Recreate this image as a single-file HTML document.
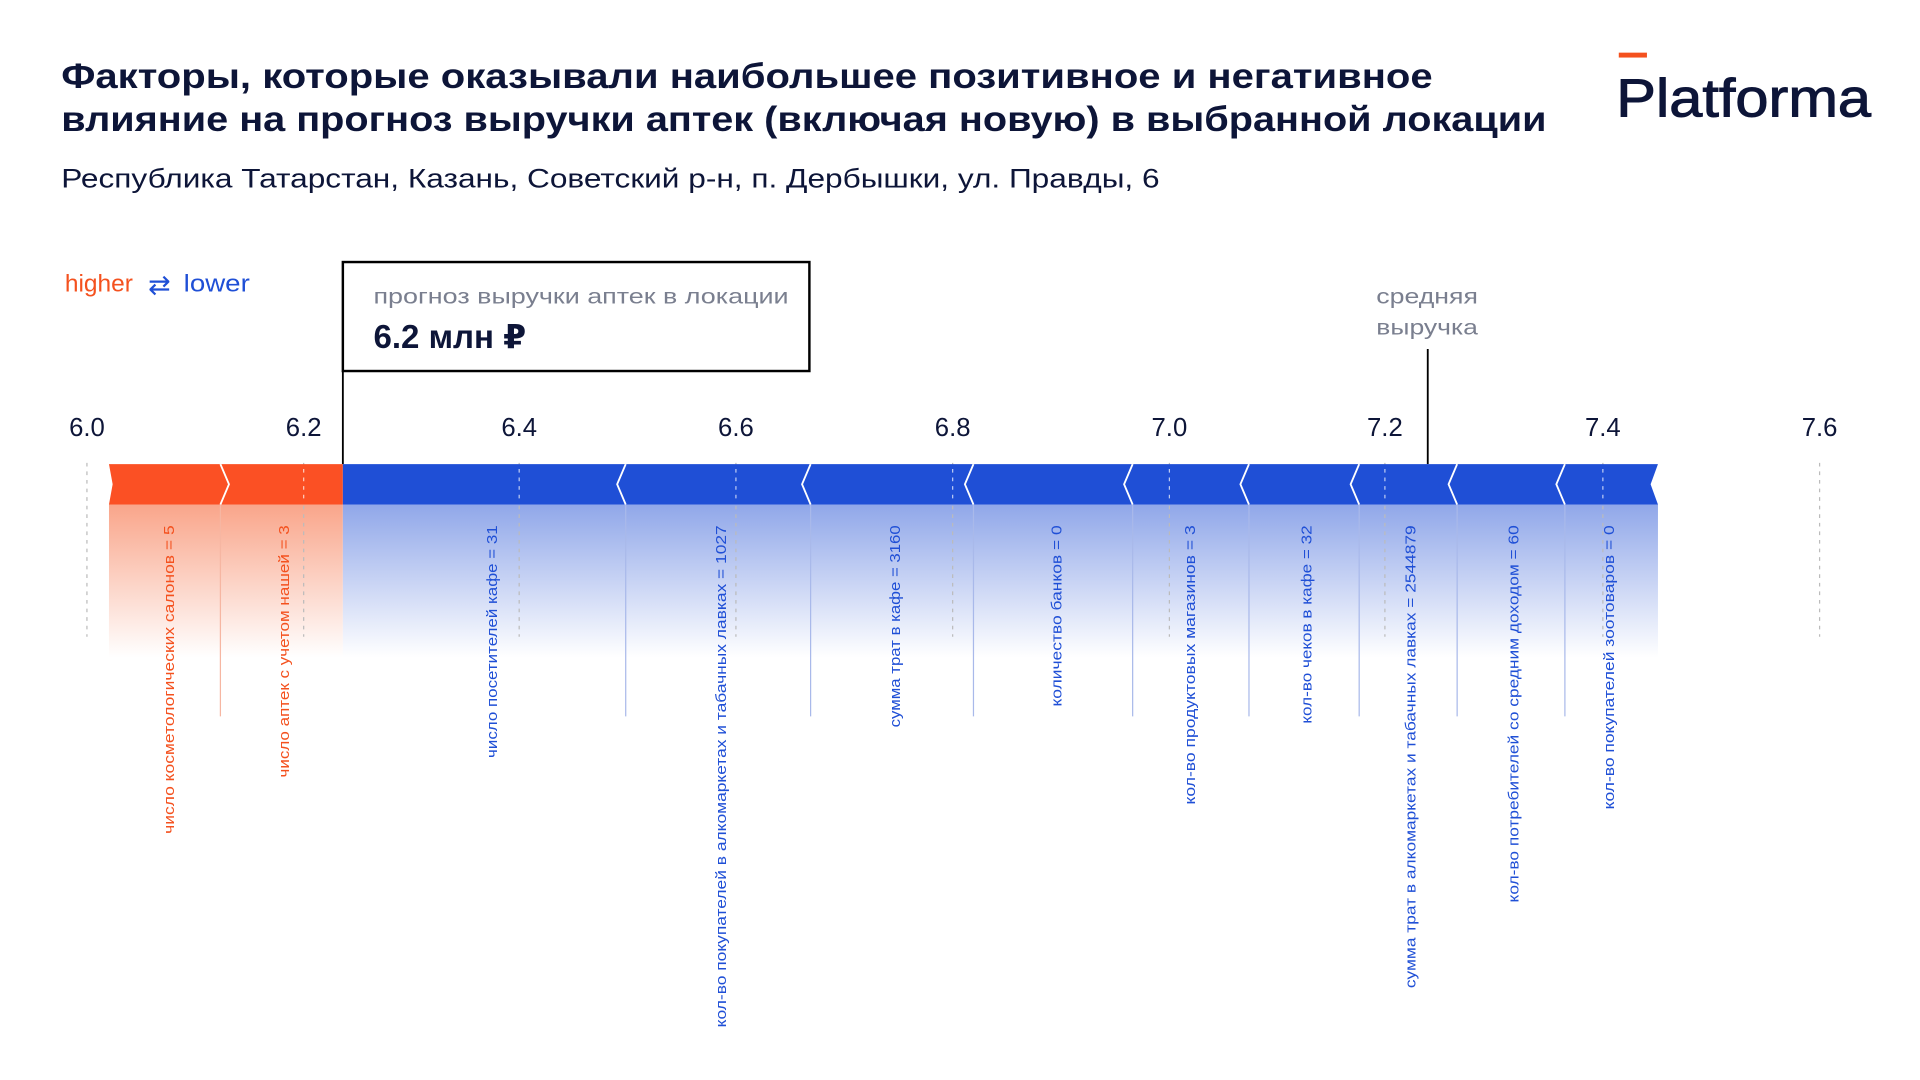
<!DOCTYPE html>
<html><head><meta charset="utf-8"><style>html,body{margin:0;padding:0;background:#fff}svg{display:block}</style></head>
<body>
<svg width="1920" height="1080" viewBox="0 0 1568 882" preserveAspectRatio="none" xmlns="http://www.w3.org/2000/svg" font-family="Liberation Sans, DejaVu Sans, sans-serif">
<defs>
<linearGradient id="gr" x1="0" y1="0" x2="0" y2="1"><stop offset="0" stop-color="#f9a58a"/><stop offset="1" stop-color="#fff"/></linearGradient>
<linearGradient id="gb" x1="0" y1="0" x2="0" y2="1"><stop offset="0" stop-color="#90a7e9"/><stop offset="1" stop-color="#fff"/></linearGradient>
</defs>
<text x="50" y="72" font-size="29" font-weight="bold" fill="#0d1538" textLength="1120" lengthAdjust="spacingAndGlyphs">Факторы, которые оказывали наибольшее позитивное и негативное</text>
<text x="50" y="107" font-size="29" font-weight="bold" fill="#0d1538" textLength="1213" lengthAdjust="spacingAndGlyphs">влияние на прогноз выручки аптек (включая новую) в выбранной локации</text>
<text x="50" y="153" font-size="22" fill="#0d1538" textLength="897" lengthAdjust="spacingAndGlyphs">Республика Татарстан, Казань, Советский р-н, п. Дербышки, ул. Правды, 6</text>
<rect x="1322" y="43" width="23" height="4" fill="#f4511e"/>
<text x="1320" y="95" font-size="44" fill="#0d1538" stroke="#0d1538" stroke-width="0.8" textLength="208" lengthAdjust="spacingAndGlyphs">Platforma</text>
<text x="53" y="238" font-size="20" fill="#f4511e">higher</text>
<text x="121" y="240" font-size="22" fill="#1f4fd6">⇄</text>
<text x="150" y="238" font-size="20" fill="#1f4fd6" textLength="54" lengthAdjust="spacingAndGlyphs">lower</text>
<rect x="280" y="214" width="381" height="89" fill="none" stroke="#000" stroke-width="2"/>
<text x="305" y="248" font-size="17.5" fill="#7a7f8f" textLength="339" lengthAdjust="spacingAndGlyphs">прогноз выручки аптек в локации</text>
<text x="305" y="284" font-size="27" font-weight="bold" fill="#0d1538">6.2 млн ₽</text>
<line x1="280" y1="303" x2="280" y2="379" stroke="#000" stroke-width="1.5"/>
<text x="1124" y="248" font-size="17.5" fill="#7a7f8f" textLength="83" lengthAdjust="spacingAndGlyphs">средняя</text>
<text x="1124" y="273" font-size="17.5" fill="#7a7f8f" textLength="83" lengthAdjust="spacingAndGlyphs">выручка</text>
<line x1="1166" y1="285" x2="1166" y2="379" stroke="#000" stroke-width="1.5"/>
<g font-size="21" fill="#0d1538" text-anchor="middle">
<text x="71" y="356">6.0</text><text x="248" y="356">6.2</text><text x="424" y="356">6.4</text><text x="601" y="356">6.6</text><text x="778" y="356">6.8</text><text x="955" y="356">7.0</text><text x="1131" y="356">7.2</text><text x="1309" y="356">7.4</text><text x="1486" y="356">7.6</text>
</g>
<rect x="89" y="412" width="191" height="125" fill="url(#gr)"/>
<rect x="280" y="412" width="1074" height="125" fill="url(#gb)"/>
<g stroke="#bbb" stroke-width="1" stroke-dasharray="3,4">
<line x1="71" y1="378" x2="71" y2="520"/><line x1="248" y1="378" x2="248" y2="520"/><line x1="424" y1="378" x2="424" y2="520"/><line x1="601" y1="378" x2="601" y2="520"/><line x1="778" y1="378" x2="778" y2="520"/><line x1="955" y1="378" x2="955" y2="520"/><line x1="1131" y1="378" x2="1131" y2="520"/><line x1="1309" y1="378" x2="1309" y2="520"/><line x1="1486" y1="378" x2="1486" y2="520"/>
</g>
<path d="M89 379 H180 L187 395.5 L180 412 H89 L92 395.5 Z" fill="#fb5024"/>
<path d="M180 379 H280 V412 H180 L187 395.5 Z" fill="#fb5024"/>
<path d="M280 379 H1354 L1348 395.5 L1354 412 H280 Z" fill="#1f4fd6"/>
<g stroke="#fff" stroke-width="1.5" fill="none">
<path d="M180 379 L187 395.5 L180 412"/>
<path d="M511 379 L504 395.5 L511 412"/><path d="M662 379 L655 395.5 L662 412"/><path d="M795 379 L788 395.5 L795 412"/><path d="M925 379 L918 395.5 L925 412"/><path d="M1020 379 L1013 395.5 L1020 412"/><path d="M1110 379 L1103 395.5 L1110 412"/><path d="M1190 379 L1183 395.5 L1190 412"/><path d="M1278 379 L1271 395.5 L1278 412"/>
</g>
<g stroke="#fff" stroke-width="1" stroke-dasharray="3,4" opacity="0.7">
<line x1="248" y1="383" x2="248" y2="410"/><line x1="424" y1="383" x2="424" y2="410"/><line x1="601" y1="383" x2="601" y2="410"/><line x1="778" y1="383" x2="778" y2="410"/><line x1="955" y1="383" x2="955" y2="410"/><line x1="1131" y1="383" x2="1131" y2="410"/><line x1="1309" y1="383" x2="1309" y2="410"/>
</g>
<g stroke-width="1">
<line x1="180" y1="412" x2="180" y2="585" stroke="#f6b6a2"/>
<line x1="511" y1="412" x2="511" y2="585" stroke="#a9b9ea"/><line x1="662" y1="412" x2="662" y2="585" stroke="#a9b9ea"/><line x1="795" y1="412" x2="795" y2="585" stroke="#a9b9ea"/><line x1="925" y1="412" x2="925" y2="585" stroke="#a9b9ea"/><line x1="1020" y1="412" x2="1020" y2="585" stroke="#a9b9ea"/><line x1="1110" y1="412" x2="1110" y2="585" stroke="#a9b9ea"/><line x1="1190" y1="412" x2="1190" y2="585" stroke="#a9b9ea"/><line x1="1278" y1="412" x2="1278" y2="585" stroke="#a9b9ea"/>
</g>
<g font-size="12" text-anchor="end" lengthAdjust="spacingAndGlyphs">
<text transform="translate(142,429) rotate(-90)" fill="#f4511e" textLength="252" lengthAdjust="spacingAndGlyphs">число косметологических салонов = 5</text>
<text transform="translate(236,429) rotate(-90)" fill="#f4511e" textLength="206" lengthAdjust="spacingAndGlyphs">число аптек с учетом нашей = 3</text>
<g fill="#1f4fd6">
<text transform="translate(406,429) rotate(-90)" textLength="190" lengthAdjust="spacingAndGlyphs">число посетителей кафе = 31</text>
<text transform="translate(593,429) rotate(-90)" textLength="410" lengthAdjust="spacingAndGlyphs">кол-во покупателей в алкомаркетах и табачных лавках = 1027</text>
<text transform="translate(735,429) rotate(-90)" textLength="165" lengthAdjust="spacingAndGlyphs">сумма трат в кафе = 3160</text>
<text transform="translate(867,429) rotate(-90)" textLength="148" lengthAdjust="spacingAndGlyphs">количество банков = 0</text>
<text transform="translate(976,429) rotate(-90)" textLength="228" lengthAdjust="spacingAndGlyphs">кол-во продуктовых магазинов = 3</text>
<text transform="translate(1071,429) rotate(-90)" textLength="162" lengthAdjust="spacingAndGlyphs">кол-во чеков в кафе = 32</text>
<text transform="translate(1156,429) rotate(-90)" textLength="378" lengthAdjust="spacingAndGlyphs">сумма трат в алкомаркетах и табачных лавках = 2544879</text>
<text transform="translate(1240,429) rotate(-90)" textLength="308" lengthAdjust="spacingAndGlyphs">кол-во потребителей со средним доходом = 60</text>
<text transform="translate(1318,429) rotate(-90)" textLength="232" lengthAdjust="spacingAndGlyphs">кол-во покупателей зоотоваров = 0</text>
</g>
</g>
</svg>
</body></html>
